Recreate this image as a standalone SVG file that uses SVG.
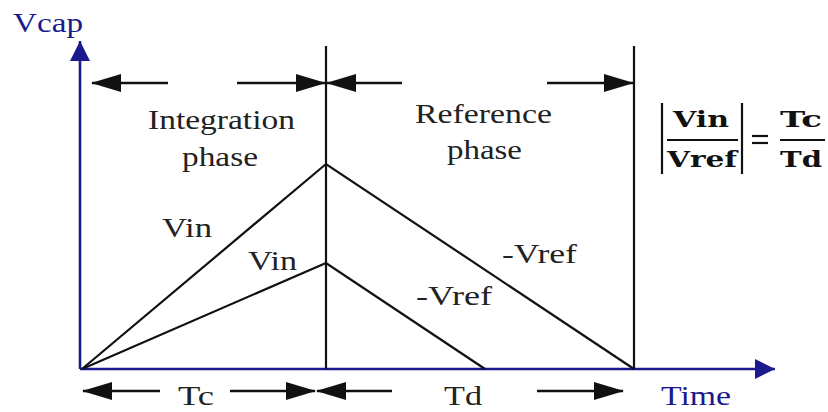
<svg xmlns="http://www.w3.org/2000/svg" width="828" height="412" viewBox="0 0 828 412">
  <defs>
    <style>
      .ln { stroke: #111; stroke-width: 2.2; fill: none; }
      .ax { stroke: #1a1a8e; stroke-width: 2.6; fill: none; }
      .t { font-family: "Liberation Serif", "Times New Roman", serif; font-size: 28px; fill: #222; }
      .tb { font-family: "DejaVu Serif", "Liberation Serif", serif; font-weight: bold; font-size: 22px; fill: #111; }
      .blue { fill: #1a1a8e; }
      .arr { stroke: #111; stroke-width: 2.4; fill: none; marker-end: url(#ah); }
    </style>
    <marker id="ah" markerUnits="userSpaceOnUse" markerWidth="30" markerHeight="18" refX="29" refY="9" orient="auto" viewBox="0 0 30 18">
      <path d="M0,0 L30,9 L0,18 z" fill="#111"/>
    </marker>
    <marker id="axh" markerUnits="userSpaceOnUse" markerWidth="20" markerHeight="20" refX="20" refY="10" orient="auto" viewBox="0 0 20 20">
      <path d="M0,0 L20,10 L0,20 z" fill="#1a1a8e"/>
    </marker>
  </defs>

  <g id="axes">
    <line class="ax" x1="80" y1="369" x2="80" y2="41" marker-end="url(#axh)"/>
    <line class="ax" x1="80" y1="369" x2="775" y2="369" marker-end="url(#axh)"/>
    <text class="t blue" x="13" y="32" textLength="70" lengthAdjust="spacingAndGlyphs">Vcap</text>
    <text class="t blue" x="661" y="405" textLength="70" lengthAdjust="spacingAndGlyphs">Time</text>
  </g>

  <g id="phase-boundaries">
    <line class="ln" x1="326" y1="46" x2="326" y2="369"/>
    <line class="ln" x1="634" y1="46" x2="634" y2="369"/>
  </g>

  <g id="connectors">
    <!-- top phase arrows -->
    <line class="arr" x1="168" y1="83" x2="92" y2="83"/>
    <line class="arr" x1="237" y1="83" x2="325" y2="83"/>
    <line class="arr" x1="402" y1="83" x2="327" y2="83"/>
    <line class="arr" x1="547" y1="83" x2="633" y2="83"/>
    <!-- bottom time arrows -->
    <line class="arr" x1="160" y1="391" x2="83" y2="391"/>
    <line class="arr" x1="230" y1="391" x2="315" y2="391"/>
    <line class="arr" x1="392" y1="391" x2="317" y2="391"/>
    <line class="arr" x1="537" y1="391" x2="623" y2="391"/>
  </g>

  <g id="waveform-high">
    <polyline class="ln" points="82,369 326,164 634,369" stroke-linejoin="miter"/>
  </g>
  <g id="waveform-low">
    <polyline class="ln" points="82,369 326,263 485,369"/>
  </g>

  <g id="labels">
    <text class="t" x="148" y="129" textLength="147" lengthAdjust="spacingAndGlyphs">Integration</text>
    <text class="t" x="182" y="166" textLength="76" lengthAdjust="spacingAndGlyphs">phase</text>
    <text class="t" x="415" y="123" textLength="137" lengthAdjust="spacingAndGlyphs">Reference</text>
    <text class="t" x="447" y="159" textLength="75" lengthAdjust="spacingAndGlyphs">phase</text>
    <text class="t" x="162" y="237" textLength="50" lengthAdjust="spacingAndGlyphs">Vin</text>
    <text class="t" x="248" y="270" textLength="49" lengthAdjust="spacingAndGlyphs">Vin</text>
    <text class="t" x="502" y="263" textLength="75" lengthAdjust="spacingAndGlyphs">-Vref</text>
    <text class="t" x="416" y="305" textLength="76" lengthAdjust="spacingAndGlyphs">-Vref</text>
    <text class="t" x="178" y="405" textLength="36" lengthAdjust="spacingAndGlyphs">Tc</text>
    <text class="t" x="444" y="405" textLength="38" lengthAdjust="spacingAndGlyphs">Td</text>
  </g>

  <g id="equation">
    <line class="ln" x1="662" y1="103" x2="662" y2="174" stroke-width="2"/>
    <line class="ln" x1="742" y1="103" x2="742" y2="174" stroke-width="2"/>
    <text class="tb" x="673" y="127" textLength="56" lengthAdjust="spacingAndGlyphs">Vin</text>
    <line class="ln" x1="667" y1="140" x2="738" y2="140" stroke-width="2"/>
    <text class="tb" x="667" y="167" textLength="70" lengthAdjust="spacingAndGlyphs">Vref</text>
    <line class="ln" x1="752" y1="136" x2="768" y2="136" stroke-width="2"/>
    <line class="ln" x1="752" y1="143" x2="768" y2="143" stroke-width="2"/>
    <text class="tb" x="780" y="127" textLength="42" lengthAdjust="spacingAndGlyphs">Tc</text>
    <line class="ln" x1="780" y1="140" x2="825" y2="140" stroke-width="2"/>
    <text class="tb" x="780" y="167" textLength="42" lengthAdjust="spacingAndGlyphs">Td</text>
  </g>
</svg>
